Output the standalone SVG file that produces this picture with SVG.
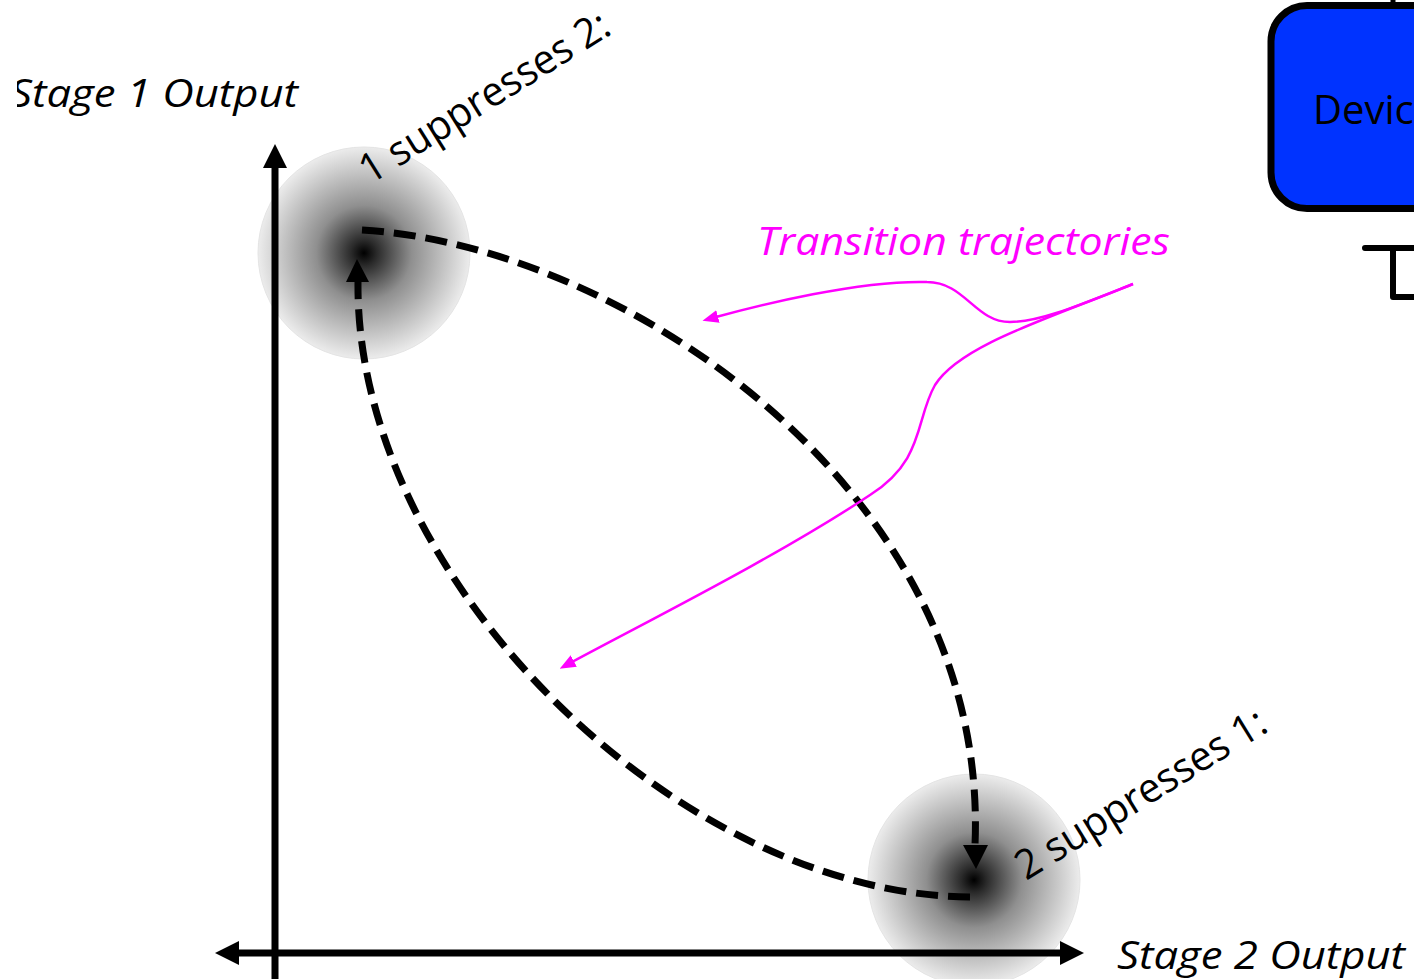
<svg xmlns="http://www.w3.org/2000/svg" width="1414" height="979" viewBox="0 0 1414 979">
<style>
.lbl{font-family:"Open Sans","Liberation Sans",sans-serif;font-size:38px;fill:#000}
.it{font-style:italic}
.rot{font-size:41px}
.axis{stroke:#000;stroke-width:7;fill:none}
.dash{stroke:#000;stroke-width:7;fill:none;stroke-dasharray:22 10}
.mag{stroke:#f0f;stroke-width:2.5;fill:none}
</style>
<defs>
<radialGradient id="blob">
<stop offset="0" stop-color="#000"/>
<stop offset="0.12" stop-color="#2a2a2a"/>
<stop offset="0.45" stop-color="#8f8f8f"/>
<stop offset="1" stop-color="#ececec"/>
</radialGradient>
<marker id="mh" markerUnits="userSpaceOnUse" markerWidth="16" markerHeight="14" refX="2" refY="6.5" orient="auto" viewBox="0 0 16 13">
<path d="M0,0 L16,6.5 L0,13 Z" fill="#f0f"/>
</marker>
<clipPath id="clipS"><rect x="17" y="0" width="400" height="200"/></clipPath>
</defs>

<rect width="1414" height="979" fill="#fff"/>

<g id="state1">
<circle cx="364" cy="253" r="106" fill="url(#blob)" stroke="#e4e4e4" stroke-width="1"/>
</g>
<g id="state2">
<circle cx="974" cy="880" r="106" fill="url(#blob)" stroke="#e4e4e4" stroke-width="1"/>
</g>

<g id="axes">
<line class="axis" x1="275" y1="979" x2="275" y2="168"/>
<path d="M263,168 L275,144 L287,168 Z" fill="#000"/>
<line class="axis" x1="238" y1="953" x2="1061" y2="953"/>
<path d="M239,941 L215,953 L239,965 Z" fill="#000"/>
<path d="M1060,941 L1084,953 L1060,965 Z" fill="#000"/>
</g>

<g id="connectors">
<path class="dash" d="M362,230 C620,245 990,490 975,845"/>
<path d="M963,845 L976,869 L988,845 Z" fill="#000"/>
<path class="dash" d="M970,897 C680,895 355,580 358,282"/>
<path d="M346,282 L357,259 L369,282 Z" fill="#000"/>
<path class="mag" d="M1133,284 C1080,305 1040,322 1010,322 C975,322 965,282 927,282 C860,280 760,305 716,317" marker-end="url(#mh)"/>
<path class="mag" d="M1133,284 C1050,318 960,345 935,385 C915,420 925,460 870,495 C780,555 650,620 572,662" marker-end="url(#mh)"/>
</g>

<g id="device">
<line x1="1393" y1="0" x2="1393" y2="6" stroke="#000" stroke-width="5"/>
<rect x="1271" y="5.5" width="300" height="203" rx="36" fill="#0033ff" stroke="#000" stroke-width="7"/>
<text class="lbl" x="1313" y="124" style="font-size:40px">Devic</text>
<path d="M1365,248 L1414,248 M1393,248 L1393,297 L1414,297" fill="none" stroke="#000" stroke-width="6" stroke-linecap="round" stroke-linejoin="round"/>
</g>

<g id="labels">
<text class="lbl it" x="10" y="107" textLength="288" lengthAdjust="spacingAndGlyphs" clip-path="url(#clipS)">Stage 1 Output</text>
<text class="lbl it" x="1117" y="969" textLength="288" lengthAdjust="spacingAndGlyphs">Stage 2 Output</text>
<text class="lbl it" x="757" y="255" textLength="413" lengthAdjust="spacingAndGlyphs" style="fill:#f0f">Transition trajectories</text>
<text class="lbl rot" transform="translate(370,185) rotate(-32)" textLength="287" lengthAdjust="spacingAndGlyphs">1 suppresses 2:</text>
<text class="lbl rot" transform="translate(1026,881) rotate(-31.7)" textLength="287" lengthAdjust="spacingAndGlyphs">2 suppresses 1:</text>
</g>
</svg>
